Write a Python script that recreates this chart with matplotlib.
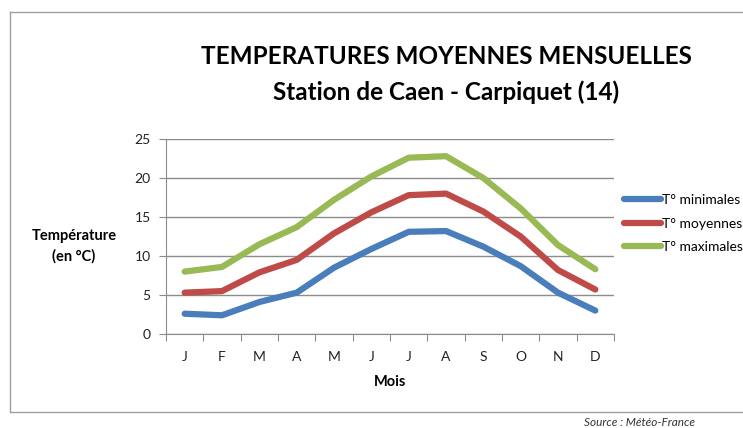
import matplotlib.pyplot as plt
import numpy as np
from matplotlib.lines import Line2D

# monthly temperatures, Caen - Carpiquet
mois = ['J', 'F', 'M', 'A', 'M', 'J', 'J', 'A', 'S', 'O', 'N', 'D']
t_min = [2.6, 2.4, 4.1, 5.3, 8.5, 10.9, 13.1, 13.2, 11.2, 8.7, 5.3, 3.0]
t_moy = [5.3, 5.5, 7.9, 9.5, 12.9, 15.6, 17.8, 18.0, 15.7, 12.5, 8.2, 5.7]
t_max = [8.0, 8.6, 11.5, 13.7, 17.2, 20.2, 22.6, 22.8, 20.0, 16.1, 11.4, 8.3]
noms = ['T° minimales', 'T° moyennes', 'T° maximales']
couleurs = ['#4a7ebb', '#be4b48', '#98b954']

plt.rcParams['font.family'] = ['Lato', 'DejaVu Sans']

fig = plt.figure(figsize=(7.43, 4.28), dpi=100)
ax = fig.add_axes([166/743, 94/428, 448/743, 195/428])

x = np.arange(len(mois))
for serie, nom, c in zip([t_min, t_moy, t_max], noms, couleurs):
    ax.plot(x, serie, color=c, lw=4.5, solid_capstyle='round', label=nom)

ax.set_xlim(-0.5, 11.5)
ax.set_ylim(0, 25)
ax.set_yticks(range(0, 26, 5))
ax.yaxis.grid(True, color='#8c8c8c', lw=1)
ax.set_axisbelow(True)

# ticks at category borders, labels in the middle
ax.set_xticks(np.arange(-0.5, 12, 1))
ax.set_xticklabels([])
ax.set_xticks(x, minor=True)
ax.set_xticklabels(mois, minor=True)
ax.tick_params(axis='x', which='major', length=5, color='#8c8c8c')
ax.tick_params(axis='x', which='minor', length=0, pad=12, labelsize=10, labelcolor='#222222')
ax.tick_params(axis='y', length=5, color='#8c8c8c', labelsize=10, labelcolor='#222222', pad=6)

for s in ['top', 'right']:
    ax.spines[s].set_visible(False)
ax.spines['left'].set_color('#8c8c8c')
ax.spines['bottom'].set_color('#8c8c8c')

ax.set_xlabel('Mois', fontsize=10.5, fontweight='bold', labelpad=9)
fig.text(74/743, 1 - 246/428, 'Température\n(en °C)', fontsize=10.5, fontweight='bold',
         ha='center', va='center', linespacing=1.55)

fig.text(446/743, 1 - 57/428, 'TEMPERATURES MOYENNES MENSUELLES', fontsize=17.5,
         fontweight='bold', ha='center', va='center')
fig.text(446/743, 1 - 92/428, 'Station de Caen - Carpiquet (14)', fontsize=17.5,
         fontweight='bold', ha='center', va='center')

fig.legend(loc='center left', bbox_to_anchor=(611/743, 1 - 223.5/428), frameon=False,
           fontsize=10, handlelength=2.7, handletextpad=0.05, labelspacing=0.85)

fig.text(695/743, 1 - 423/428, 'Source : Météo-France', fontsize=8.5, style='italic',
         ha='right', va='center', color='#333333')

# chart border
bord = dict(color='#a0a0a0', lw=1, transform=fig.transFigure)
fig.add_artist(Line2D([10/743, 10/743], [1 - 12/428, 1 - 412/428], **bord))
fig.add_artist(Line2D([10/743, 1], [1 - 12/428, 1 - 12/428], **bord))
fig.add_artist(Line2D([10/743, 1], [1 - 412/428, 1 - 412/428], **bord))

fig.savefig('out.png', dpi=100)
